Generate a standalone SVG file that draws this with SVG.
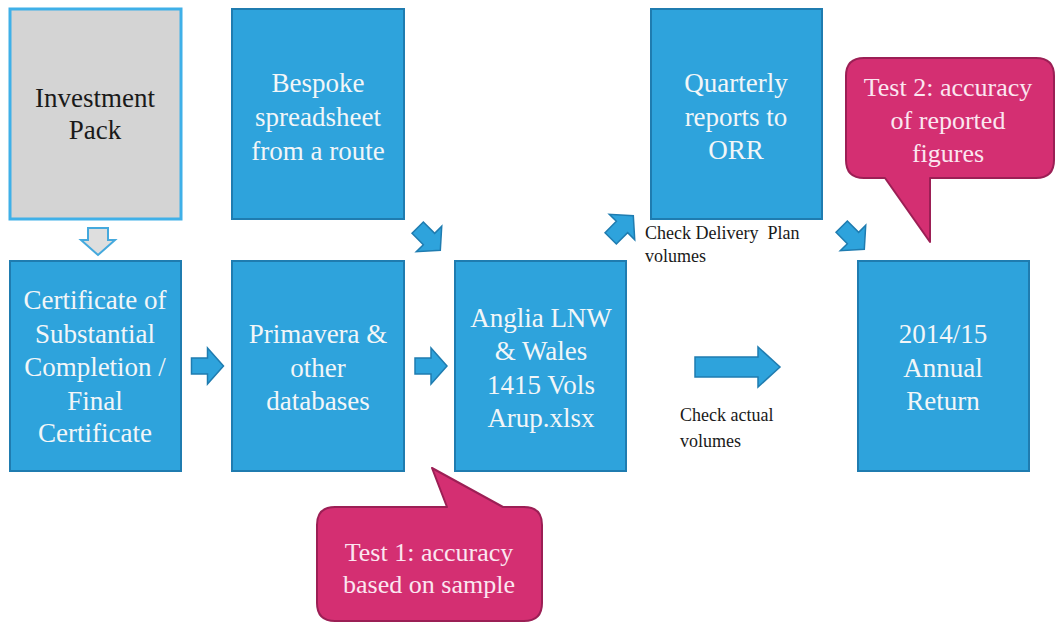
<svg xmlns="http://www.w3.org/2000/svg" width="1056" height="626" viewBox="0 0 1056 626">
<style>
.box{fill:#2ea3dc;stroke:#1f7cb0;stroke-width:2}
.grey{fill:#d4d4d4;stroke:#3fb0e8;stroke-width:3}
text{font-family:"Times New Roman","Liberation Serif",Tinos,"DejaVu Serif",serif}
.t{font-size:27px;text-anchor:middle}
.w{fill:#f2f6f8}
.k{fill:#1a1a1a}
.arr{fill:#2ea3dc;stroke:#1f7cb0;stroke-width:1.5;stroke-linejoin:miter}
.call{fill:#d42f72;stroke:#9c1f55;stroke-width:2;stroke-linejoin:round}
.ct{font-size:26px;text-anchor:middle;fill:#fbe6f0}
.lbl{font-size:18px;fill:#1a1a1a;white-space:pre}
</style>
<defs>
<path id="ar" d="M-16,-8 H0 V-18 L16,0 L0,18 V8 H-16 Z"/>
</defs>
<rect width="1056" height="626" fill="#ffffff"/>

<g id="investment-pack">
<rect class="grey" x="10" y="9" width="171" height="210"/>
<text class="t k" x="95" y="107">Investment</text>
<text class="t k" x="95" y="139">Pack</text>
</g>

<g id="bespoke">
<rect class="box" x="232" y="9" width="172" height="210"/>
<text class="t w" x="318" y="92">Bespoke</text>
<text class="t w" x="318" y="126">spreadsheet</text>
<text class="t w" x="318" y="160">from a route</text>
</g>

<g id="quarterly">
<rect class="box" x="651" y="9" width="171" height="210"/>
<text class="t w" x="736" y="92">Quarterly</text>
<text class="t w" x="736" y="126">reports to</text>
<text class="t w" x="736" y="159">ORR</text>
</g>

<g id="certificate">
<rect class="box" x="10" y="261" width="171" height="210"/>
<text class="t w" x="95" y="309">Certificate of</text>
<text class="t w" x="95" y="343">Substantial</text>
<text class="t w" x="95" y="376">Completion /</text>
<text class="t w" x="95" y="410">Final</text>
<text class="t w" x="95" y="442">Certificate</text>
</g>

<g id="primavera">
<rect class="box" x="232" y="261" width="172" height="210"/>
<text class="t w" x="318" y="343">Primavera &amp;</text>
<text class="t w" x="318" y="377">other</text>
<text class="t w" x="318" y="410">databases</text>
</g>

<g id="anglia">
<rect class="box" x="455" y="261" width="171" height="210"/>
<text class="t w" x="541" y="327">Anglia LNW</text>
<text class="t w" x="541" y="360">&amp; Wales</text>
<text class="t w" x="541" y="394">1415 Vols</text>
<text class="t w" x="541" y="427">Arup.xlsx</text>
</g>

<g id="annual-return">
<rect class="box" x="858" y="261" width="171" height="210"/>
<text class="t w" x="943" y="343">2014/15</text>
<text class="t w" x="943" y="377">Annual</text>
<text class="t w" x="943" y="410">Return</text>
</g>

<g id="connectors">
<path d="M88,228 H108 V240 H115 L98,255 L81,240 H88 Z" fill="#dedede" stroke="#45a9dd" stroke-width="2"/>
<use href="#ar" class="arr" transform="translate(207.5,366)"/>
<use href="#ar" class="arr" transform="translate(431,366)"/>
<use href="#ar" class="arr" transform="translate(429,239) rotate(45)"/>
<use href="#ar" class="arr" transform="translate(622,227) rotate(-45)"/>
<use href="#ar" class="arr" transform="translate(853,238) rotate(45)"/>
<path class="arr" d="M695,357 H758 V347 L780,367 L758,387 V377 H695 Z"/>
<text class="lbl" x="645" y="239">Check Delivery  Plan</text>
<text class="lbl" x="645" y="262">volumes</text>
<text class="lbl" x="680" y="421">Check actual</text>
<text class="lbl" x="680" y="447">volumes</text>
</g>

<g id="test2">
<path class="call" d="M864,58 H1036 Q1054,58 1054,76 V160 Q1054,178 1036,178 H930 V242 L885,178 H864 Q846,178 846,160 V76 Q846,58 864,58 Z"/>
<text class="ct" x="948" y="96">Test 2: accuracy</text>
<text class="ct" x="948" y="129">of reported</text>
<text class="ct" x="948" y="162">figures</text>
</g>

<g id="test1">
<path class="call" d="M335,507 H447 L432,468 L503,507 H524 Q542,507 542,525 V603 Q542,621 524,621 H335 Q317,621 317,603 V525 Q317,507 335,507 Z"/>
<text class="ct" x="429" y="561">Test 1: accuracy</text>
<text class="ct" x="429" y="593">based on sample</text>
</g>
</svg>
